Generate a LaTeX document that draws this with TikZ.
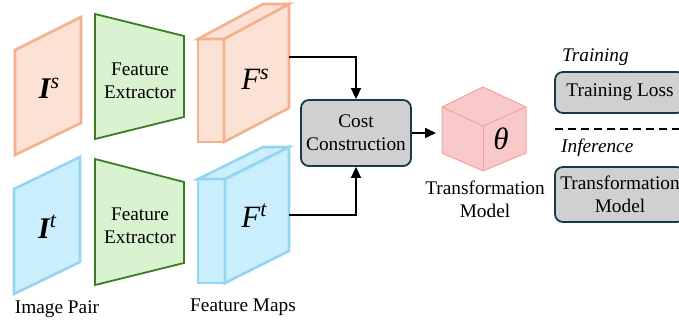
\documentclass[tikz,border=0pt]{standalone}
\usepackage{fontspec}
\setmainfont{Liberation Serif}
\usetikzlibrary{arrows.meta}
\definecolor{orfill}{HTML}{FBE2D5}
\definecolor{ordraw}{HTML}{F4B18E}
\definecolor{blfill}{HTML}{CAEEFB}
\definecolor{bldraw}{HTML}{94D6F2}
\definecolor{grfill}{HTML}{D9F2D0}
\definecolor{grdraw}{HTML}{3B7D23}
\definecolor{boxfill}{HTML}{D0D0D0}
\definecolor{boxdraw}{HTML}{173A48}
\definecolor{cubefill}{HTML}{F9C8C9}
\definecolor{cubedraw}{HTML}{F3A2A2}
\newcommand{\bigI}[1]{{\fontsize{30}{30}\selectfont\bfseries\itshape I}\raisebox{10pt}{\fontsize{22}{22}\selectfont\itshape #1}}
\newcommand{\bigF}[1]{{\fontsize{31}{31}\selectfont\itshape F}\raisebox{10pt}{\fontsize{22}{22}\selectfont\itshape #1}}
\begin{document}
\begin{tikzpicture}[x=1pt,y=-1pt,
  font=\fontsize{19.3}{22.7}\selectfont,
  orshape/.style={fill=orfill,draw=ordraw,line width=2.6pt,line join=miter},
  blshape/.style={fill=blfill,draw=bldraw,line width=2.6pt,line join=miter},
  feshape/.style={fill=grfill,draw=grdraw,line width=1.8pt,line join=miter},
  cubeshape/.style={fill=cubefill,draw=cubedraw,line width=1pt,line join=round},
  graybox/.style={rectangle,rounded corners=8pt,fill=boxfill,draw=boxdraw,line width=1.8pt,align=center,inner sep=0pt},
  arr/.style={-{Triangle[length=11pt,width=10pt]},line width=1.6pt},
  lbl/.style={align=center,inner sep=0pt},
  dashline/.style={line width=1.6pt,dash pattern=on 8pt off 5pt}]
\useasboundingbox (0,0) rectangle (679,320);
\clip (0,0) rectangle (679,320);

% image pair
\draw[orshape] (15,50) -- (81,17) -- (81,123) -- (15,155) -- cycle;
\node[lbl,anchor=base] (is) at (49,99) {\bigI{s}};
\draw[blshape] (14,189) -- (80,157) -- (80,262) -- (14,294) -- cycle;
\node[lbl,anchor=base] (it) at (47,238) {\bigI{t}};
\node[lbl,anchor=base] (imgpair) at (57,313) {Image Pair};

% feature extractors
\draw[feshape] (95,14) -- (184,36) -- (184,117) -- (95,139) -- cycle;
\node[lbl] (fe1) at (140,81) {Feature\\Extractor};
\draw[feshape] (95,159) -- (184,182) -- (184,263) -- (95,285) -- cycle;
\node[lbl] (fe2) at (140,226) {Feature\\Extractor};

% feature maps
\draw[orshape] (198,39) rectangle (224,142);
\draw[orshape] (224,39) -- (289,4) -- (289,108) -- (224,142) -- cycle;
\draw[orshape] (198,39) -- (263,4) -- (289,4) -- (224,39) -- cycle;
\node[lbl,anchor=base] (fs) at (255,90) {\bigF{s}};
\draw[blshape] (198,179) rectangle (225,283);
\draw[blshape] (225,179) -- (289,147) -- (289,251) -- (225,283) -- cycle;
\draw[blshape] (198,179) -- (263,147) -- (289,147) -- (225,179) -- cycle;
\node[lbl,anchor=base] (ft) at (254,227) {\bigF{t}};
\node[lbl,anchor=base] (fmaps) at (243,311) {Feature Maps};
\coordinate (fsout) at (289,57);
\coordinate (ftout) at (289,215);

% cost construction
\node[graybox,minimum width=110pt,minimum height=66pt] (cost) at (356,133) {Cost\\Construction};
\draw[arr] (fsout) -| (cost.north);
\draw[arr] (ftout) -| (cost.south);

% cube
\draw[cubeshape] (483,87) -- (526,107) -- (526,153) -- (483,171) -- (442,153) -- (442,107) -- cycle;
\draw[cubeshape,fill=none] (442,107) -- (483,126) -- (526,107);
\draw[cubeshape,fill=none] (483,126) -- (483,171);
\node[lbl,anchor=base] (theta) at (501,150) {\fontsize{31}{31}\selectfont\itshape θ};
\coordinate (cubein) at (436,133);
\draw[arr] (cost.east) -- (cubein);
\node[lbl] (tmlabel) at (485,199) {Transformation\\Model};

% training / inference
\node[lbl,anchor=base west] (training) at (562,62) {\itshape Training};
\node[graybox,minimum width=130pt,minimum height=41pt] (tloss) at (620,92.5) {Training Loss};
\coordinate (dashstart) at (555,129);
\coordinate (dashend) at (700,129);
\draw[dashline] (dashstart) -- (dashend);
\node[lbl,anchor=base west] (inference) at (561,153) {\itshape Inference};
\node[graybox,minimum width=130pt,minimum height=55pt] (tmodel) at (620,194.5) {Transformation\\Model};
\end{tikzpicture}
\end{document}
